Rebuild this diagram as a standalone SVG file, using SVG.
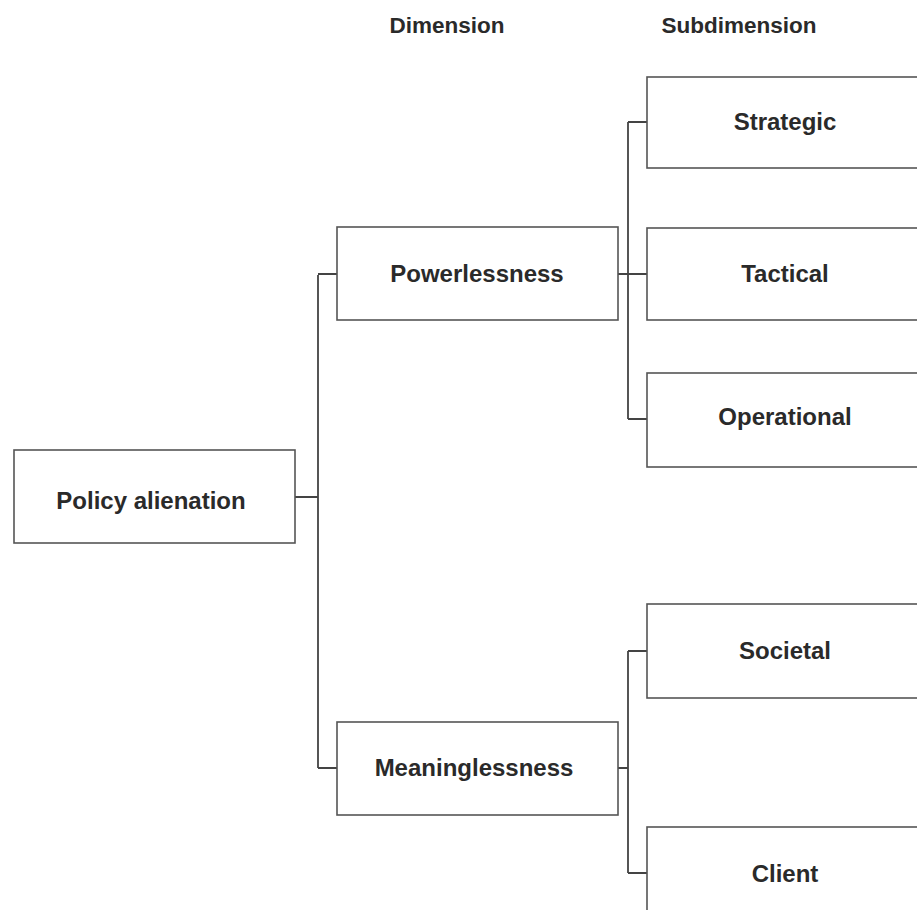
<svg xmlns="http://www.w3.org/2000/svg" width="917" height="910" viewBox="0 0 917 910">
<style>
.box{fill:#fff;stroke:#555;stroke-width:1.6}
.lbl{font-family:"Liberation Sans",Arial,sans-serif;font-weight:bold;font-size:24px;fill:#2a2a2a;text-anchor:middle}
.hdr{font-family:"Liberation Sans",Arial,sans-serif;font-weight:bold;font-size:22.5px;fill:#2a2a2a;text-anchor:middle}
.con{fill:none;stroke:#444;stroke-width:1.8}
</style>
<rect width="917" height="910" fill="#fff"/>
<text class="hdr" x="447" y="33">Dimension</text>
<text class="hdr" x="739" y="33">Subdimension</text>
<g id="connectors">
<path class="con" d="M295 497H318M318 275V768M318 274H337M318 768H337"/>
<path class="con" d="M618 274H647M628 122V419M628 122H647M628 419H647"/>
<path class="con" d="M618 768H628M628 651V873M628 651H647M628 873H647"/>
</g>
<g id="policy-alienation"><rect class="box" x="14" y="450" width="281" height="93"/><text class="lbl" x="151" y="509">Policy alienation</text></g>
<g id="powerlessness"><rect class="box" x="337" y="227" width="281" height="93"/><text class="lbl" x="477" y="282">Powerlessness</text></g>
<g id="meaninglessness"><rect class="box" x="337" y="722" width="281" height="93"/><text class="lbl" x="474" y="776">Meaninglessness</text></g>
<g id="strategic"><rect class="box" x="647" y="77" width="290" height="91"/><text class="lbl" x="785" y="130">Strategic</text></g>
<g id="tactical"><rect class="box" x="647" y="228" width="290" height="92"/><text class="lbl" x="785" y="282">Tactical</text></g>
<g id="operational"><rect class="box" x="647" y="373" width="290" height="94"/><text class="lbl" x="785" y="425">Operational</text></g>
<g id="societal"><rect class="box" x="647" y="604" width="290" height="94"/><text class="lbl" x="785" y="659">Societal</text></g>
<g id="client"><rect class="box" x="647" y="827" width="290" height="100"/><text class="lbl" x="785" y="882">Client</text></g>
</svg>
